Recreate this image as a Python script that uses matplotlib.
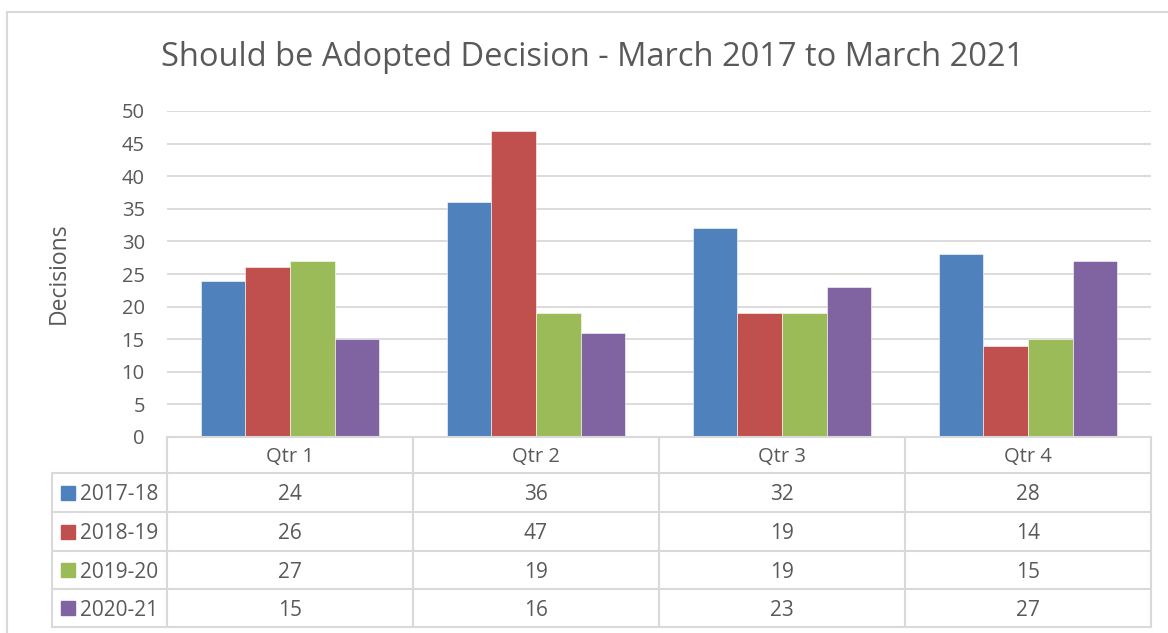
import matplotlib
matplotlib.use("Agg")
import matplotlib.pyplot as plt
from matplotlib.patches import Rectangle
from matplotlib.lines import Line2D
import numpy as np

plt.rcParams['font.family'] = ['Open Sans', 'DejaVu Sans']

title = "Should be Adopted Decision - March 2017 to March 2021"
ylabel = "Decisions"
categories = ["Qtr 1", "Qtr 2", "Qtr 3", "Qtr 4"]
series_names = ["2017-18", "2018-19", "2019-20", "2020-21"]
v2017 = [24, 36, 32, 28]
v2018 = [26, 47, 19, 14]
v2019 = [27, 19, 19, 15]
v2020 = [15, 16, 23, 27]
values = [v2017, v2018, v2019, v2020]
colors = ["#4F81BD", "#C0504D", "#9BBB59", "#8064A2"]
yticks = list(range(0, 51, 5))

W, H = 1168, 633
fig = plt.figure(figsize=(W / 100, H / 100), dpi=100)
fig.patch.set_facecolor("white")

def fx(px):
    return px / W

def fy(py):
    return 1 - py / H

txt = "#595959"
grid = "#D9D9D9"

# outer border
fig.add_artist(Line2D([fx(7), fx(7)], [fy(12), fy(633)], color="#D9D9D9", lw=1.5))
fig.add_artist(Line2D([fx(7), fx(1168)], [fy(12), fy(12)], color="#D9D9D9", lw=1.5))

ax_l, ax_r, ax_t, ax_b = 167, 1151, 111, 437
ax = fig.add_axes([fx(ax_l), fy(ax_b), fx(ax_r - ax_l), (ax_b - ax_t) / H])
ax.set_xlim(-0.5, len(categories) - 0.5)
ax.set_ylim(0, 50)
for s in ax.spines.values():
    s.set_visible(False)
ax.set_yticks(yticks)
ax.yaxis.grid(True, color=grid, lw=1.3)
ax.set_axisbelow(True)
ax.tick_params(axis='y', length=0, labelsize=14.5, labelcolor=txt, pad=16)
ax.set_xticks([])

x = np.arange(len(categories))
bw = 0.181
for i, (vals, c) in enumerate(zip(values, colors)):
    ax.bar(x + (i - 1.5) * bw, vals, width=bw, color=c, edgecolor="white", linewidth=0.4, zorder=3)

fig.text(fx(59), fy(273), ylabel, rotation=90, ha="center", va="center", fontsize=16.5, color=txt)
fig.text(fx(593), fy(57), title, ha="center", va="center", fontsize=23.5, color=txt)

# data table
col_x = [167, 413, 659, 905, 1151]
row_y = [437, 473, 512, 551, 589, 627]
lc = "#D9D9D9"
lw = 1.5
fig.add_artist(Line2D([fx(167), fx(1151)], [fy(437), fy(437)], color=lc, lw=lw))
for yy in row_y[1:]:
    fig.add_artist(Line2D([fx(52), fx(1151)], [fy(yy), fy(yy)], color=lc, lw=lw))
for xx in col_x:
    fig.add_artist(Line2D([fx(xx), fx(xx)], [fy(437), fy(627)], color=lc, lw=lw))
fig.add_artist(Line2D([fx(52), fx(52)], [fy(473), fy(627)], color=lc, lw=lw))

dy = 2
for j, cat in enumerate(categories):
    cx = (col_x[j] + col_x[j + 1]) / 2
    fig.text(fx(cx), fy((row_y[0] + row_y[1]) / 2 + dy), cat, ha="center", va="center", fontsize=14.5, color=txt)
for i, (name, vals, c) in enumerate(zip(series_names, values, colors)):
    cy = (row_y[i + 1] + row_y[i + 2]) / 2
    fig.add_artist(Rectangle((fx(61), fy(cy + 7)), fx(14), 14 / H, color=c))
    fig.text(fx(80), fy(cy + dy), name, ha="left", va="center", fontsize=15, color=txt)
    for j, v in enumerate(vals):
        cx = (col_x[j] + col_x[j + 1]) / 2
        fig.text(fx(cx), fy(cy + dy), str(v), ha="center", va="center", fontsize=15, color=txt)

fig.savefig("out.png", dpi=100)
